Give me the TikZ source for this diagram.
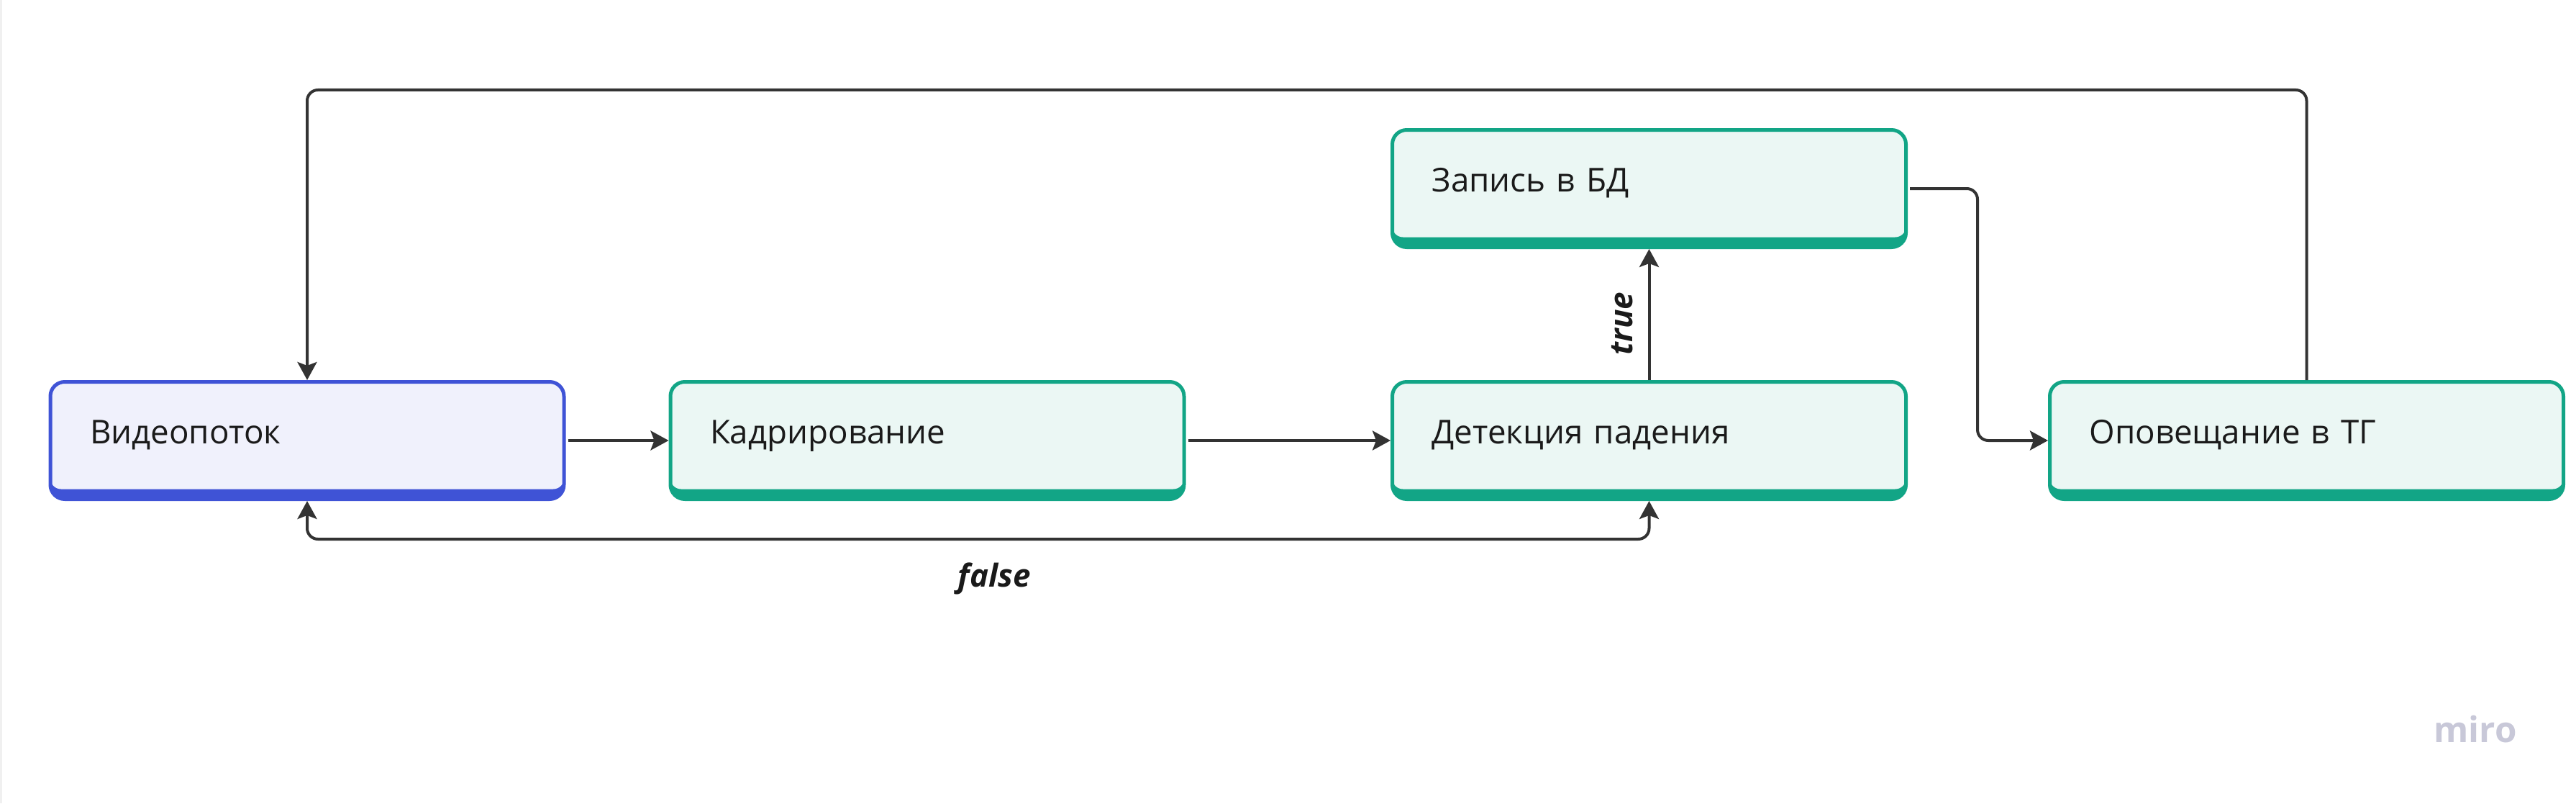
\documentclass[tikz,border=0pt]{standalone}
\usepackage{fontspec}
\setmainfont{Open Sans}
\usetikzlibrary{arrows.meta, positioning, calc}
\definecolor{blueline}{HTML}{3F53D6}
\definecolor{bluefill}{HTML}{F0F1FC}
\definecolor{tealline}{HTML}{12A586}
\definecolor{tealfill}{HTML}{EBF7F4}
\definecolor{flowgray}{HTML}{333333}
\definecolor{textdark}{HTML}{1A1A1A}
\definecolor{mirogray}{HTML}{C8C8D8}
\tikzset{
  card/.style={rounded corners=0.2cm, line width=0.05cm, minimum width=7.14cm, minimum height=1.63cm,
    inner xsep=0.55cm, text width=6.04cm, align=left, text height=0.33cm, text depth=0.24cm,
    text=textdark, font=\fontsize{13}{15}\selectfont},
  bluecard/.style={card, draw=blueline, path picture={
    \fill[blueline] (path picture bounding box.south west) rectangle (path picture bounding box.north east);
    \fill[bluefill, rounded corners=0.15cm] ([yshift=0.14cm]path picture bounding box.south west) rectangle (path picture bounding box.north east);}},
  tealcard/.style={card, draw=tealline, path picture={
    \fill[tealline] (path picture bounding box.south west) rectangle (path picture bounding box.north east);
    \fill[tealfill, rounded corners=0.15cm] ([yshift=0.14cm]path picture bounding box.south west) rectangle (path picture bounding box.north east);}},
  flow/.style={-{Stealth[length=0.25cm, width=0.27cm, inset=0.05cm]}, line width=0.04cm, draw=flowgray, rounded corners=0.15cm},
  cond/.style={font=\fontsize{12.5}{14}\selectfont\itshape\bfseries, text=textdark}
}
\begin{document}
\begin{tikzpicture}
  \useasboundingbox (0,0) rectangle (35.81,11.16);
  \fill[black!6] (0,0) rectangle (0.03,11.16);

  % Pipeline boxes
  \node[bluecard] (vid) at (4.27,5.04) {Видеопоток};
  \node[tealcard] (crop) at (12.89,5.04) {Кадрирование};
  \node[tealcard] (det) at (22.925,5.04) {Детекция падения};
  \node[tealcard] (db) at (22.925,8.54) {Запись в БД};
  \node[tealcard] (notif) at (32.065,5.04) {Оповещание в ТГ};

  % Helper levels for the loops
  \coordinate (top) at (0,9.91);
  \coordinate (low) at (0,3.67);

  % Main flow
  \draw[flow, shorten <=0.03cm] (vid.east) -- (crop.west);
  \draw[flow, shorten <=0.03cm] (crop.east) -- (det.west);
  \draw[flow] (det.north) -- node[cond, pos=0.43, xshift=-0.37cm, rotate=90] {true} (db.south);
  \draw[flow, shorten <=0.03cm] (db.east) -- ++(0.97,0) |- (notif.west);

  % Back to the video stream
  \draw[flow] (notif.north) -- (notif.north |- top) -| (vid.north);
  \draw[flow, {Stealth[length=0.25cm, width=0.27cm, inset=0.05cm]}-{Stealth[length=0.25cm, width=0.27cm, inset=0.05cm]}]
    (vid.south) -- (vid.south |- low) -- node[cond, pos=0.512, yshift=-0.55cm] {false} (det.south |- low) -- (det.south);

  % Watermark
  \node[font=\fontsize{14}{14}\selectfont\bfseries, text=mirogray] (miro) at (34.41,1.03) {miro};
\end{tikzpicture}
\end{document}
